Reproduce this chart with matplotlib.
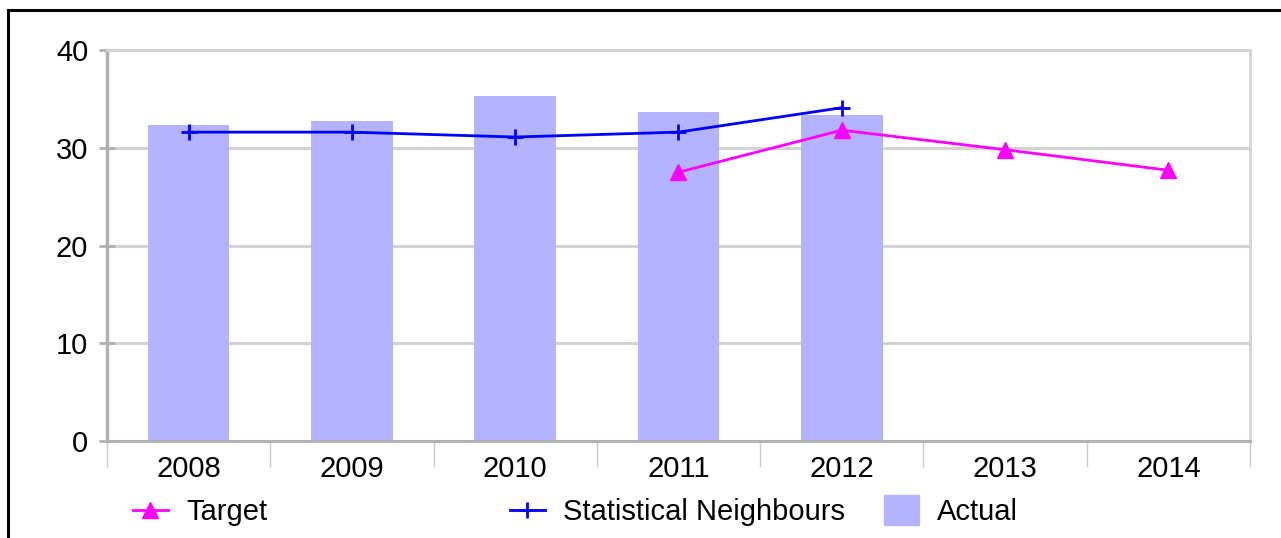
import matplotlib.pyplot as plt
from matplotlib.lines import Line2D
from matplotlib.patches import Patch
import numpy as np

plt.rcParams['font.family'] = ['Liberation Sans', 'DejaVu Sans']

years = ['2008', '2009', '2010', '2011', '2012', '2013', '2014']
actual = [32.3, 32.7, 35.3, 33.7, 33.4, None, None]
neighbours = [31.6, 31.6, 31.1, 31.6, 34.1, None, None]
target = [None, None, None, 27.5, 31.8, 29.8, 27.7]

bar_color = '#b3b3ff'
grid_color = '#d3d3d3'
axis_color = '#b0b0b0'
fs = 21

fig = plt.figure(figsize=(12.81, 5.38), dpi=100)
ax = fig.add_axes([0.0835, 0.1803, 0.8923, 0.7267])

x = np.arange(len(years))
bar_x = [i for i, v in zip(x, actual) if v is not None]
bar_h = [v for v in actual if v is not None]
ax.bar(bar_x, bar_h, width=0.5, color=bar_color, zorder=2)

nx = [i for i, v in zip(x, neighbours) if v is not None]
ny = [v for v in neighbours if v is not None]
ax.plot(nx, ny, color='#0000ff', lw=2, marker='+', ms=11, mew=2, zorder=3)

tx = [i for i, v in zip(x, target) if v is not None]
ty = [v for v in target if v is not None]
ax.plot(tx, ty, color='#ff00ff', lw=2, marker='^', ms=11, zorder=4)

ax.set_xlim(-0.5, len(years) - 0.5)
ax.set_ylim(0, 40)
ax.set_yticks([0, 10, 20, 30, 40])
ax.set_xticks(x)
ax.set_xticklabels(years)
ax.set_xticks(np.arange(-0.5, len(years)), minor=True)

ax.yaxis.grid(True, color=grid_color, lw=2.2, zorder=0)
ax.set_axisbelow(True)

ax.tick_params(axis='y', direction='inout', length=11, width=2, color=axis_color,
               labelsize=fs, pad=8)
ax.tick_params(axis='x', which='major', length=0, labelsize=fs, pad=10)
ax.tick_params(axis='x', which='minor', direction='out', length=19, width=1,
               color='#c8c8c8')

ax.spines['left'].set_color(axis_color)
ax.spines['left'].set_linewidth(2.5)
ax.spines['bottom'].set_color(axis_color)
ax.spines['bottom'].set_linewidth(2)
for s in ('top', 'right'):
    ax.spines[s].set_color(grid_color)
    ax.spines[s].set_linewidth(2)

# legend entries placed separately like the original
h_target = Line2D([], [], color='#ff00ff', lw=2, marker='^', ms=11)
h_neigh = Line2D([], [], color='#0000ff', lw=2, marker='+', ms=11, mew=2)
h_actual = Patch(color=bar_color)
legend_kw = dict(frameon=False, fontsize=fs, handletextpad=0.62,
                 borderaxespad=0, borderpad=0, loc='center left')
fig.legend([h_target], ['Target'], bbox_to_anchor=(0.1038, 0.048),
           handlelength=1.2, **legend_kw)
fig.legend([h_neigh], ['Statistical Neighbours'], bbox_to_anchor=(0.398, 0.048),
           handlelength=1.2, **legend_kw)
fig.legend([h_actual], ['Actual'], bbox_to_anchor=(0.690, 0.051),
           handlelength=1.2, handleheight=1.2, **legend_kw)

# black frame round the chart (only left and top show)
fig.add_artist(Line2D([0.0065, 0.0065], [0, 0.982], color='black', lw=2.2,
                      transform=fig.transFigure))
fig.add_artist(Line2D([0.0065, 1.0], [0.982, 0.982], color='black', lw=2.2,
                      transform=fig.transFigure))

fig.savefig('out.png', dpi=100)
